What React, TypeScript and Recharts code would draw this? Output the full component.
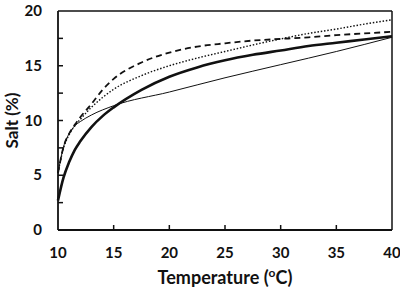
import React from "react";
import {Label, Line, LineChart, ReferenceLine, XAxis, YAxis} from "recharts";

// temperature grid (°C) for the three curved series
const tempsCurve = [10, 10.5, 11, 11.5, 12, 13, 14, 15, 17.5, 20, 22.5, 25, 27.5, 30, 32.5, 35, 37.5, 40];
const saltThick = [2.7, 4.8, 6.2, 7.3, 8.1, 9.4, 10.4, 11.2, 12.8, 14.0, 14.85, 15.5, 16.0, 16.4, 16.8, 17.1, 17.4, 17.7];
const saltDashed = [5.2, 7.6, 8.8, 9.6, 10.3, 11.5, 12.8, 13.8, 15.3, 16.2, 16.75, 17.05, 17.3, 17.45, 17.6, 17.8, 17.95, 18.1];
const saltDotted = [5.2, 7.5, 8.7, 9.5, 10.1, 11.2, 12.1, 12.85, 14.1, 15.0, 15.7, 16.3, 16.9, 17.45, 17.95, 18.35, 18.8, 19.2];

// the thin series runs almost straight once past the knee
const tempsThin = [10, 10.5, 11, 11.5, 12, 13, 15, 20, 25, 30, 35, 40];
const saltThin = [5.2, 7.6, 8.8, 9.5, 9.9, 10.5, 11.35, 12.6, 13.9, 15.1, 16.3, 17.6];

const xTicks = [10, 15, 20, 25, 30, 35, 40];
const yTicks = [0, 2.5, 5, 7.5, 10, 12.5, 15, 17.5, 20];

const toRows = (xs: number[], ys: number[]) => xs.map((t, i) => ({t, s: ys[i]}));

const FONT = "Lato, 'Open Sans', sans-serif";
const INK = "#111";

const XTick = (props: any) => {
   const {x, y, payload} = props;
   const v = payload.value;
   return (
      <g>
         {v > 10 && v < 40 && <line x1={x} y1={y} x2={x} y2={y - 5} stroke={INK} strokeWidth={1.5}/>}
         <text x={x} y={y + 28} textAnchor="middle" fontFamily={FONT} fontWeight={700} fontSize={15} fill={INK}>
            {v}
         </text>
      </g>
   );
};

const YTick = (props: any) => {
   const {x, y, payload} = props;
   const v = payload.value;
   return (
      <g>
         {v > 0 && v < 20 && <line x1={x} y1={y} x2={x + 5} y2={y} stroke={INK} strokeWidth={1.5}/>}
         {v % 5 === 0 && (
            <text x={x - 16} y={y + 5} textAnchor="end" fontFamily={FONT} fontWeight={700} fontSize={15} fill={INK}>
               {v}
            </text>
         )}
      </g>
   );
};

const XTitle = ({viewBox}: any) => (
   <text x={viewBox.x + viewBox.width / 2} y={viewBox.y + 54} textAnchor="middle"
         fontFamily={FONT} fontWeight={700} fontSize={18} fill={INK}>
      Temperature (<tspan dy={-7} fontSize={12}>o</tspan><tspan dy={7}>C)</tspan>
   </text>
);

const YTitle = ({viewBox}: any) => {
   const cx = 11;
   const cy = viewBox.y + viewBox.height / 2;
   return (
      <text x={cx} y={cy} transform={`rotate(-90, ${cx}, ${cy})`} textAnchor="middle" dominantBaseline="central"
            fontFamily={FONT} fontWeight={700} fontSize={17} fill={INK}>
         Salt (%)
      </text>
   );
};

export default function App() {
   return (
      <div style={{position: "absolute", left: 0, top: 0, background: "#fff"}}>
         <LineChart width={400} height={292} margin={{top: 11, right: 8, left: 0, bottom: 0}}>
            <XAxis dataKey="t" type="number" domain={[10, 40]} ticks={xTicks} allowDuplicatedCategory={false}
                   height={62} tickSize={0} tickMargin={0} tick={<XTick/>} tickLine={false}
                   axisLine={{stroke: INK, strokeWidth: 1.8}} interval={0}>
               <Label content={<XTitle/>}/>
            </XAxis>
            <YAxis type="number" domain={[0, 20]} ticks={yTicks} width={58} tickSize={0} tickMargin={0}
                   tick={<YTick/>} tickLine={false} axisLine={{stroke: INK, strokeWidth: 1.8}} interval={0}>
               <Label content={<YTitle/>}/>
            </YAxis>
            <ReferenceLine y={20} stroke={INK} strokeWidth={1.5}/>
            <ReferenceLine x={40} stroke={INK} strokeWidth={1.5}/>
            <Line data={toRows(tempsThin, saltThin)} dataKey="s" type="monotone" stroke={INK} strokeWidth={1}
                  dot={false} isAnimationActive={false}/>
            <Line data={toRows(tempsCurve, saltDotted)} dataKey="s" type="monotone" stroke={INK} strokeWidth={1.4}
                  strokeDasharray="1.5 1.8" dot={false} isAnimationActive={false}/>
            <Line data={toRows(tempsCurve, saltDashed)} dataKey="s" type="monotone" stroke={INK} strokeWidth={1.8}
                  strokeDasharray="6 4" dot={false} isAnimationActive={false}/>
            <Line data={toRows(tempsCurve, saltThick)} dataKey="s" type="monotone" stroke={INK} strokeWidth={2.6}
                  dot={false} isAnimationActive={false}/>
         </LineChart>
      </div>
   );
}
